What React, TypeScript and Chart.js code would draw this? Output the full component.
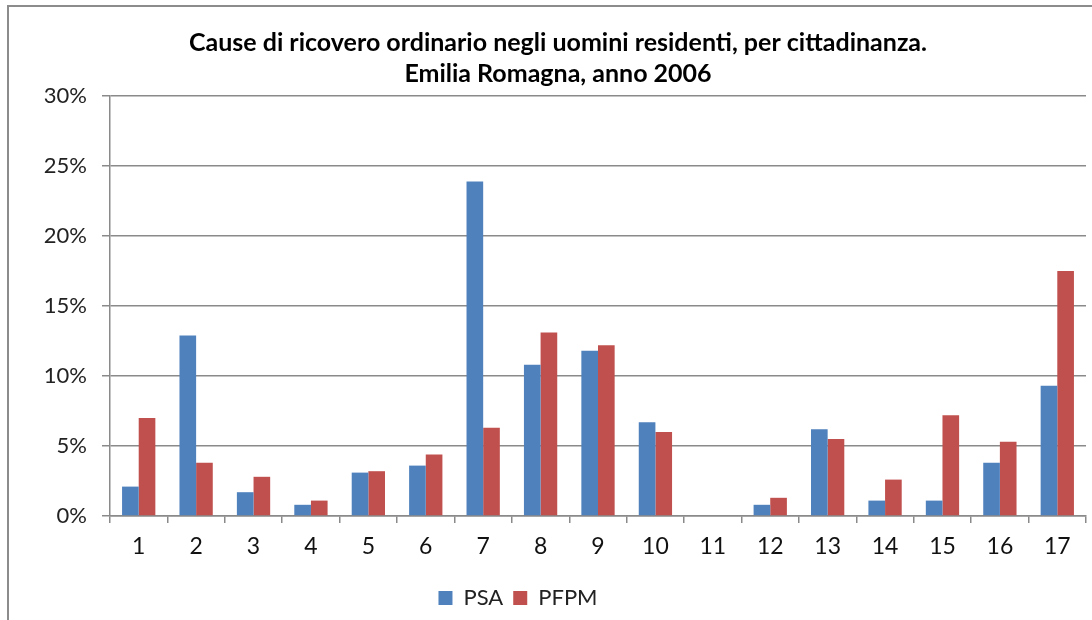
import React, { useEffect, useRef } from "react";
import { Chart, registerables } from "chart.js";

Chart.register(...registerables);

const categories = ["1", "2", "3", "4", "5", "6", "7", "8", "9", "10", "11", "12", "13", "14", "15", "16", "17"];
const psa = [2.1, 12.9, 1.7, 0.8, 3.1, 3.6, 23.9, 10.8, 11.8, 6.7, 0, 0.8, 6.2, 1.1, 1.1, 3.8, 9.3];
const pfpm = [7.0, 3.8, 2.8, 1.1, 3.2, 4.4, 6.3, 13.1, 12.2, 6.0, 0, 1.3, 5.5, 2.6, 7.2, 5.3, 17.5];
const titleLines = [
  "Cause di ricovero ordinario negli uomini residenti, per cittadinanza.",
  "Emilia Romagna, anno 2006",
];

const FONT = "Lato, 'Open Sans', sans-serif";

const legendShift = {
  id: "legendShift",
  afterLayout(chart: any) {
    if (chart.legend) {
      chart.legend.left -= 40;
      chart.legend.right -= 40;
    }
  },
};

export default function App() {
  const ref = useRef<HTMLCanvasElement | null>(null);

  useEffect(() => {
    if (!ref.current) return;
    document.body.style.margin = "0";
    const chart = new Chart(ref.current, {
      type: "bar",
      data: {
        labels: categories,
        datasets: [
          { label: "PSA", data: psa, backgroundColor: "#4F81BD", borderWidth: 0 },
          { label: "PFPM", data: pfpm, backgroundColor: "#C0504D", borderWidth: 0 },
        ],
      },
      plugins: [legendShift],
      options: {
        responsive: false,
        animation: false,
        devicePixelRatio: 1,
        layout: { padding: { top: 28, left: 30, right: 6, bottom: 1 } },
        datasets: { bar: { categoryPercentage: 0.58, barPercentage: 1.0 } },
        plugins: {
          title: {
            display: true,
            text: titleLines,
            color: "#000",
            font: { family: FONT, size: 25, weight: "bold", lineHeight: 1.22 },
            padding: { top: 0, bottom: 7 },
          },
          legend: {
            position: "bottom",
            labels: {
              color: "#222",
              font: { family: FONT, size: 22 },
              boxWidth: 14,
              boxHeight: 14,
              padding: 10,
            },
          },
          tooltip: { enabled: false },
        },
        scales: {
          x: {
            afterFit: (s: any) => {
              s.height = 61;
            },
            grid: {
              display: true,
              drawOnChartArea: false,
              drawTicks: true,
              tickLength: 7,
              color: "#8a8a8a",
              lineWidth: 1.5,
              offset: true,
            },
            border: { display: true, color: "#8a8a8a", width: 1.5 },
            ticks: { color: "#111", font: { family: FONT, size: 23 }, padding: 10 },
          },
          y: {
            min: 0,
            max: 30,
            afterFit: (s: any) => {
              s.width = 80;
            },
            ticks: {
              stepSize: 5,
              color: "#222",
              font: { family: FONT, size: 22 },
              padding: 15,
              callback: (v: any) => v + "%",
            },
            grid: { color: "#8a8a8a", lineWidth: 1.5, tickLength: 8 },
            border: { display: true, color: "#8a8a8a", width: 1.5 },
          },
        },
      },
    });
    return () => chart.destroy();
  }, []);

  return (
    <div style={{ position: "fixed", left: 0, top: 0, width: 1092, height: 620, background: "#fff" }}>
      <div
        style={{
          position: "absolute",
          left: 7,
          top: 5,
          width: 1200,
          height: 700,
          borderLeft: "2px solid #8c8c8c",
          borderTop: "2px solid #8c8c8c",
        }}
      />
      <canvas ref={ref} width={1092} height={620} style={{ position: "absolute", left: 0, top: 0 }} />
    </div>
  );
}
